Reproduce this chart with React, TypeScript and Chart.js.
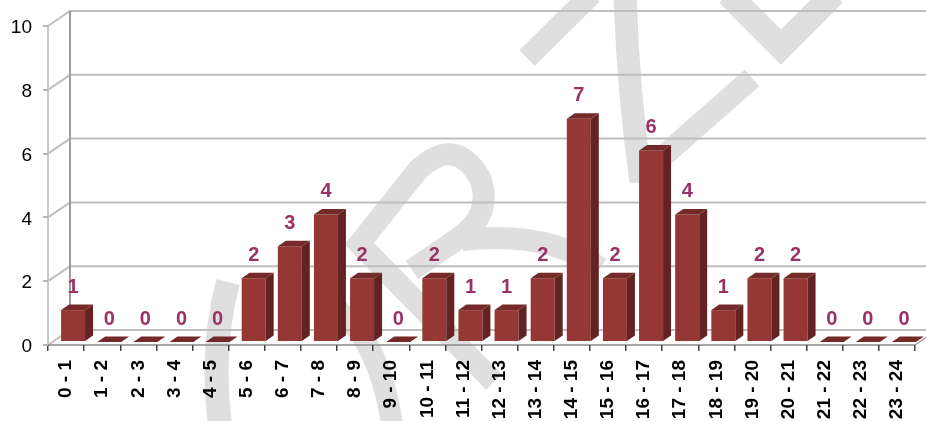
import { useEffect, useRef } from "react";
import { Chart, registerables } from "chart.js";

Chart.register(...registerables);

// Hourly buckets and the number of events counted in each
const hours = [
  "0 - 1", "1 - 2", "2 - 3", "3 - 4", "4 - 5", "5 - 6", "6 - 7", "7 - 8",
  "8 - 9", "9 - 10", "10 - 11", "11 - 12", "12 - 13", "13 - 14", "14 - 15", "15 - 16",
  "16 - 17", "17 - 18", "18 - 19", "19 - 20", "20 - 21", "21 - 22", "22 - 23", "23 - 24",
];
const counts = [1, 0, 0, 0, 0, 2, 3, 4, 2, 0, 2, 1, 1, 2, 7, 2, 6, 4, 1, 2, 2, 0, 0, 0];
const yTicks = [0, 2, 4, 6, 8, 10];

const FONT = "'Liberation Sans', Arial, Helvetica, sans-serif";

// Oblique projection used for the 3D look
const WALL = { x: 22, y: -15 };
const BAR_SHIFT = { x: 7, y: -3 };
const BAR_DEPTH = { x: 8, y: -5.5 };

const COLORS = {
  front: "#953735",
  side: "#622322",
  top: "#732a29",
  label: "#993366",
  grid: "#bebebe",
  backEdge: "#9c9c9c",
  frontEdge: "#c8c8c8",
  floorFront: "#8a8a8a",
  mark: "#dfdfdf",
};

function drawWatermark(ctx: CanvasRenderingContext2D) {
  ctx.save();
  ctx.strokeStyle = COLORS.mark;
  ctx.lineCap = "butt";
  ctx.lineJoin = "miter";
  const stroke = (w: number, build: () => void) => {
    ctx.lineWidth = w;
    ctx.beginPath();
    build();
    ctx.stroke();
  };
  // lower left arc
  stroke(24, () => {
    ctx.moveTo(228, 282);
    ctx.quadraticCurveTo(210, 350, 220, 425);
  });
  // second arc
  stroke(22, () => {
    ctx.moveTo(322, 300);
    ctx.quadraticCurveTo(378, 328, 392, 425);
  });
  // looped letter
  stroke(22, () => {
    ctx.moveTo(356, 248);
    ctx.lineTo(418, 170);
    ctx.quadraticCurveTo(455, 135, 480, 178);
    ctx.quadraticCurveTo(494, 215, 456, 240);
    ctx.lineTo(412, 270);
  });
  stroke(22, () => {
    ctx.moveTo(352, 236);
    ctx.lineTo(494, 382);
  });
  stroke(22, () => {
    ctx.moveTo(462, 240);
    ctx.quadraticCurveTo(548, 230, 600, 268);
  });
  // upper strokes
  stroke(22, () => {
    ctx.moveTo(527, 58);
    ctx.lineTo(592, -6);
  });
  stroke(23, () => {
    ctx.moveTo(625, -5);
    ctx.quadraticCurveTo(628, 90, 641, 182);
  });
  stroke(22, () => {
    ctx.moveTo(752, 78);
    ctx.lineTo(636, 180);
  });
  stroke(25, () => {
    ctx.moveTo(728, -6);
    ctx.lineTo(781, 47);
    ctx.lineTo(834, -6);
  });
  ctx.restore();
}

const scene3d = {
  id: "scene3d",
  beforeDraw(chart: any) {
    const { ctx, chartArea, scales } = chart;
    const { left, right } = chartArea;
    const y = scales.y;
    drawWatermark(ctx);

    ctx.save();
    ctx.lineCap = "butt";
    const y0 = y.getPixelForValue(0);
    const yTop = y.getPixelForValue(yTicks[yTicks.length - 1]);

    // back wall and left wall grid lines
    ctx.strokeStyle = COLORS.grid;
    ctx.lineWidth = 2;
    yTicks.forEach((v) => {
      const py = y.getPixelForValue(v);
      ctx.beginPath();
      ctx.moveTo(left, py);
      ctx.lineTo(left + WALL.x, py + WALL.y);
      ctx.lineTo(chart.width + 20, py + WALL.y);
      ctx.stroke();
    });

    // floor: right edge
    ctx.strokeStyle = "#a8a8a8";
    ctx.lineWidth = 1.5;
    ctx.beginPath();
    ctx.moveTo(right, y0);
    ctx.lineTo(right + WALL.x, y0 + WALL.y);
    ctx.stroke();

    // back vertical edge of the left wall
    ctx.strokeStyle = COLORS.backEdge;
    ctx.lineWidth = 2;
    ctx.beginPath();
    ctx.moveTo(left + WALL.x, yTop + WALL.y);
    ctx.lineTo(left + WALL.x, y0 + WALL.y);
    ctx.stroke();

    // front vertical edge
    ctx.strokeStyle = COLORS.frontEdge;
    ctx.beginPath();
    ctx.moveTo(left, yTop);
    ctx.lineTo(left, y0);
    ctx.stroke();

    // front floor edge
    ctx.strokeStyle = COLORS.floorFront;
    ctx.lineWidth = 1.5;
    ctx.beginPath();
    ctx.moveTo(left, y0);
    ctx.lineTo(right, y0);
    ctx.stroke();
    ctx.restore();
  },
  beforeDatasetsDraw(chart: any) {
    chart.ctx.save();
    chart.ctx.translate(BAR_SHIFT.x, BAR_SHIFT.y);
  },
  afterDatasetsDraw(chart: any) {
    const { ctx } = chart;
    ctx.restore();
    const meta = chart.getDatasetMeta(0);
    ctx.save();
    ctx.translate(BAR_SHIFT.x, BAR_SHIFT.y);
    meta.data.forEach((bar: any, i: number) => {
      const { x, y, base, width } = bar.getProps(["x", "y", "base", "width"], true);
      const l = x - width / 2;
      const r = x + width / 2;
      const dx = BAR_DEPTH.x;
      const dy = BAR_DEPTH.y;
      if (base - y > 0.5) {
        ctx.fillStyle = COLORS.side;
        ctx.beginPath();
        ctx.moveTo(r, y);
        ctx.lineTo(r + dx, y + dy);
        ctx.lineTo(r + dx, base + dy);
        ctx.lineTo(r, base);
        ctx.closePath();
        ctx.fill();
      }
      ctx.fillStyle = COLORS.top;
      ctx.beginPath();
      ctx.moveTo(l, y);
      ctx.lineTo(l + dx, y + dy);
      ctx.lineTo(r + dx, y + dy);
      ctx.lineTo(r, y);
      ctx.closePath();
      ctx.fill();

      ctx.fillStyle = COLORS.label;
      ctx.font = `bold 20px ${FONT}`;
      ctx.textAlign = "center";
      ctx.textBaseline = "middle";
      ctx.fillText(String(counts[i]), x, y - 23);
    });
    ctx.restore();
  },
};

export default function App() {
  const canvasRef = useRef<HTMLCanvasElement | null>(null);

  useEffect(() => {
    const canvas = canvasRef.current;
    if (!canvas) return;
    const chart = new Chart(canvas, {
      type: "bar",
      data: {
        labels: hours,
        datasets: [
          {
            data: counts,
            backgroundColor: COLORS.front,
            borderWidth: 0,
            barPercentage: 0.664,
            categoryPercentage: 1,
            clip: false as any,
          },
        ],
      },
      options: {
        responsive: false,
        animation: false,
        devicePixelRatio: 1,
        layout: { padding: { top: 26, right: 11, left: 0, bottom: 0 } },
        plugins: {
          legend: { display: false },
          tooltip: { enabled: false },
        },
        scales: {
          x: {
            grid: {
              display: true,
              drawOnChartArea: false,
              drawTicks: true,
              tickLength: 6,
              tickColor: "#404040",
              lineWidth: 1.5,
              offset: true,
            },
            border: { display: false },
            ticks: {
              autoSkip: false,
              maxRotation: 90,
              minRotation: 90,
              padding: 9,
              color: "#000",
              font: { family: FONT, size: 19, weight: "bold" },
            },
            afterFit: (s: any) => {
              s.height = 76;
              s.paddingLeft = 0;
              s.paddingRight = 0;
            },
          },
          y: {
            min: 0,
            max: 10,
            grid: {
              display: true,
              drawOnChartArea: false,
              drawTicks: true,
              tickLength: 5,
              tickColor: "#b4b4b4",
              lineWidth: 2,
            },
            border: { display: false },
            afterBuildTicks: (s: any) => {
              s.ticks = yTicks.map((v) => ({ value: v }));
            },
            ticks: {
              padding: 11,
              color: "#000",
              labelOffset: 2,
              font: { family: FONT, size: 19 },
            },
            afterFit: (s: any) => {
              s.width = 48;
            },
          },
        },
      },
      plugins: [scene3d],
    });
    return () => chart.destroy();
  }, []);

  return (
    <div style={{ position: "absolute", left: 0, top: 0, width: 926, height: 421, background: "#fff" }}>
      <canvas ref={canvasRef} width={926} height={421} style={{ display: "block" }} />
    </div>
  );
}
